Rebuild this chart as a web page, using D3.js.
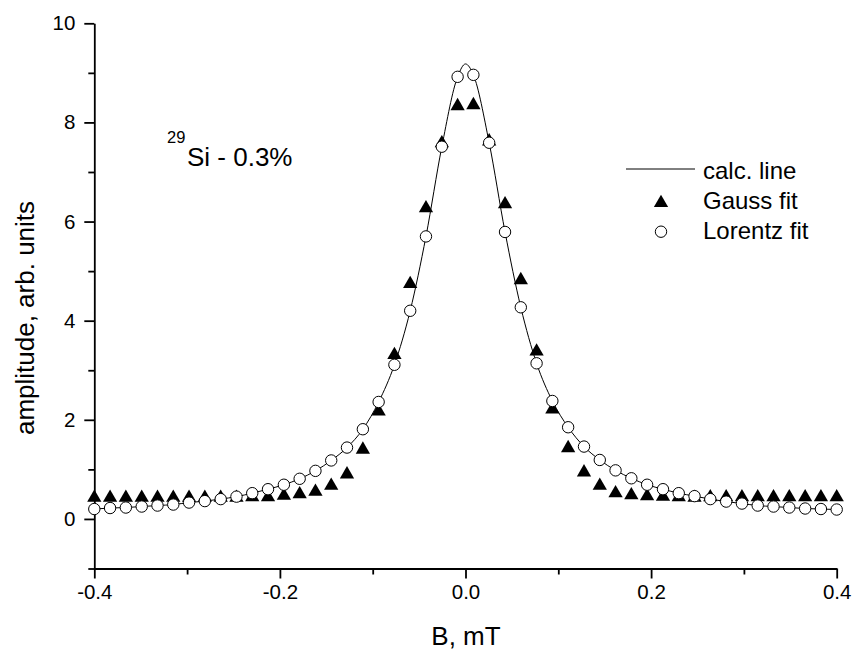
<!DOCTYPE html>
<html>
<head>
<meta charset="utf-8">
<script src="https://cdn.jsdelivr.net/npm/d3@7"></script>
<style>
  html, body { margin: 0; padding: 0; background: #fff; }
  svg { display: block; font-family: "Liberation Sans", Arial, sans-serif; }
</style>
</head>
<body>
<svg id="chart" width="853" height="654"></svg>
<script>
// ---- data ----
const fieldB = [-0.4000, -0.3830, -0.3660, -0.3489, -0.3319, -0.3149, -0.2979, -0.2809,
  -0.2638, -0.2468, -0.2298, -0.2128, -0.1957, -0.1787, -0.1617, -0.1447,
  -0.1277, -0.1106, -0.0936, -0.0766, -0.0596, -0.0426, -0.0255, -0.0085,
  0.0085, 0.0255, 0.0426, 0.0596, 0.0766, 0.0936, 0.1106, 0.1277,
  0.1447, 0.1617, 0.1787, 0.1957, 0.2128, 0.2298, 0.2468, 0.2638,
  0.2809, 0.2979, 0.3149, 0.3319, 0.3489, 0.3660, 0.3830, 0.4000];

const lorentzFit = [0.20, 0.22, 0.23, 0.25, 0.27, 0.29, 0.33, 0.36, 0.40, 0.45, 0.52, 0.60,
  0.69, 0.81, 0.97, 1.18, 1.44, 1.81, 2.36, 3.11, 4.20, 5.70, 7.51, 8.92,
  8.96, 7.59, 5.79, 4.27, 3.14, 2.38, 1.85, 1.46, 1.19, 0.98, 0.82, 0.69,
  0.60, 0.52, 0.46, 0.40, 0.35, 0.31, 0.27, 0.25, 0.23, 0.21, 0.20, 0.19];

const gaussFit = [0.43, 0.43, 0.43, 0.43, 0.43, 0.43, 0.43, 0.43, 0.43, 0.43, 0.44, 0.44,
  0.47, 0.50, 0.55, 0.67, 0.90, 1.40, 2.17, 3.31, 4.74, 6.27, 7.58, 8.33,
  8.35, 7.62, 6.35, 4.82, 3.38, 2.21, 1.43, 0.94, 0.67, 0.52, 0.48, 0.46,
  0.45, 0.44, 0.43, 0.44, 0.44, 0.44, 0.44, 0.44, 0.44, 0.44, 0.44, 0.44];

const calcB = [-0.4000, -0.3830, -0.3660, -0.3489, -0.3319, -0.3149, -0.2979, -0.2809,
  -0.2638, -0.2468, -0.2298, -0.2128, -0.1957, -0.1787, -0.1617, -0.1447,
  -0.1277, -0.1106, -0.0936, -0.0766, -0.0596, -0.0426, -0.0255, -0.0085, 0.0000,
  0.0085, 0.0255, 0.0426, 0.0596, 0.0766, 0.0936, 0.1106, 0.1277,
  0.1447, 0.1617, 0.1787, 0.1957, 0.2128, 0.2298, 0.2468, 0.2638,
  0.2809, 0.2979, 0.3149, 0.3319, 0.3489, 0.3660, 0.3830, 0.4000];
const calcLine = [0.20, 0.22, 0.23, 0.25, 0.27, 0.29, 0.33, 0.36, 0.40, 0.45, 0.52, 0.60,
  0.69, 0.81, 0.97, 1.18, 1.44, 1.81, 2.36, 3.11, 4.20, 5.70, 7.51, 8.92, 9.18,
  8.96, 7.59, 5.79, 4.27, 3.14, 2.38, 1.85, 1.46, 1.19, 0.98, 0.82, 0.69,
  0.60, 0.52, 0.46, 0.40, 0.35, 0.31, 0.27, 0.25, 0.23, 0.21, 0.20, 0.19];

const xMajorTicks = [-0.4, -0.2, 0.0, 0.2, 0.4];
const xTickLabels = ["-0.4", "-0.2", "0.0", "0.2", "0.4"];
const xMinorTicks = [-0.3, -0.1, 0.1, 0.3];
const yMajorTicks = [0, 2, 4, 6, 8, 10];
const yMinorTicks = [-1, 1, 3, 5, 7, 9];
const legendLabels = ["calc. line", "Gauss fit", "Lorentz fit"];

// ---- layout ----
const svg = d3.select("#chart");
const FONT = "'Liberation Sans', Arial, sans-serif";
const x = d3.scaleLinear().domain([-0.4, 0.4]).range([94.3, 836.7]);
const y = d3.scaleLinear().domain([-1, 10]).range([568.5, 23.3]);

// axes
const axisW = 1.8;
function styleAxis(g) {
  g.selectAll("path.domain").attr("stroke", "#000").attr("stroke-width", axisW);
  g.selectAll(".tick line").attr("stroke", "#000").attr("stroke-width", axisW);
  g.selectAll(".tick text").attr("font-family", FONT).attr("font-size", 20.5).attr("fill", "#000");
}

const xAxisG = svg.append("g").attr("transform", `translate(0,${y(-1)})`)
  .call(d3.axisBottom(x).tickValues(xMajorTicks).tickSize(10).tickSizeOuter(0).tickPadding(6)
    .tickFormat((d, i) => xTickLabels[i]));
styleAxis(xAxisG);
const xMinorG = svg.append("g").attr("transform", `translate(0,${y(-1)})`)
  .call(d3.axisBottom(x).tickValues(xMinorTicks).tickSize(6).tickFormat(""));
xMinorG.select("path.domain").remove();
styleAxis(xMinorG);

const yAxisG = svg.append("g").attr("transform", `translate(${x(-0.4)},0)`)
  .call(d3.axisLeft(y).tickValues(yMajorTicks).tickSize(10).tickSizeOuter(0).tickPadding(9)
    .tickFormat(d3.format("d")));
styleAxis(yAxisG);
const yMinorG = svg.append("g").attr("transform", `translate(${x(-0.4)},0)`)
  .call(d3.axisLeft(y).tickValues(yMinorTicks).tickSize(6).tickFormat(""));
yMinorG.select("path.domain").remove();
styleAxis(yMinorG);

// axis titles
svg.append("text").attr("x", 466).attr("y", 645).attr("text-anchor", "middle")
  .attr("font-family", FONT).attr("font-size", 26).text("B, mT");
svg.append("text").attr("transform", "translate(34,318) rotate(-90)").attr("text-anchor", "middle")
  .attr("font-family", FONT).attr("font-size", 26).text("amplitude, arb. units");

// calc line
const line = d3.line().x(d => x(d[0])).y(d => y(d[1])).curve(d3.curveMonotoneX);
svg.append("path").datum(calcB.map((b, i) => [b, calcLine[i]]))
  .attr("d", line).attr("fill", "none").attr("stroke", "#000").attr("stroke-width", 1);

// Gauss triangles
const tri = d3.symbol().type(d3.symbolTriangle).size(88);
svg.append("g").selectAll("path").data(fieldB.map((b, i) => [b, gaussFit[i]])).join("path")
  .attr("transform", d => `translate(${x(d[0])},${y(d[1])})`)
  .attr("d", tri).attr("fill", "#000");

// Lorentz circles
svg.append("g").selectAll("circle").data(fieldB.map((b, i) => [b, lorentzFit[i]])).join("circle")
  .attr("cx", d => x(d[0])).attr("cy", d => y(d[1])).attr("r", 5.7)
  .attr("fill", "#fff").attr("stroke", "#000").attr("stroke-width", 1);

// annotation
svg.append("text").attr("x", 167).attr("y", 142.5).attr("font-family", FONT).attr("font-size", 16.5).text("29");
svg.append("text").attr("x", 187).attr("y", 166).attr("font-family", FONT).attr("font-size", 26).text("Si - 0.3%");

// legend
const lg = svg.append("g");
lg.append("line").attr("x1", 626).attr("x2", 695).attr("y1", 169).attr("y2", 169)
  .attr("stroke", "#000").attr("stroke-width", 1);
lg.append("path").attr("transform", "translate(661,203)").attr("d", tri).attr("fill", "#000");
lg.append("circle").attr("cx", 661).attr("cy", 231.7).attr("r", 5.7)
  .attr("fill", "#fff").attr("stroke", "#000").attr("stroke-width", 1);
const legendY = [171, 201, 231];
legendLabels.forEach((t, i) => {
  lg.append("text").attr("x", 703).attr("y", legendY[i]).attr("dy", "0.35em")
    .attr("font-family", FONT).attr("font-size", 24).text(t);
});
</script>
</body>
</html>
